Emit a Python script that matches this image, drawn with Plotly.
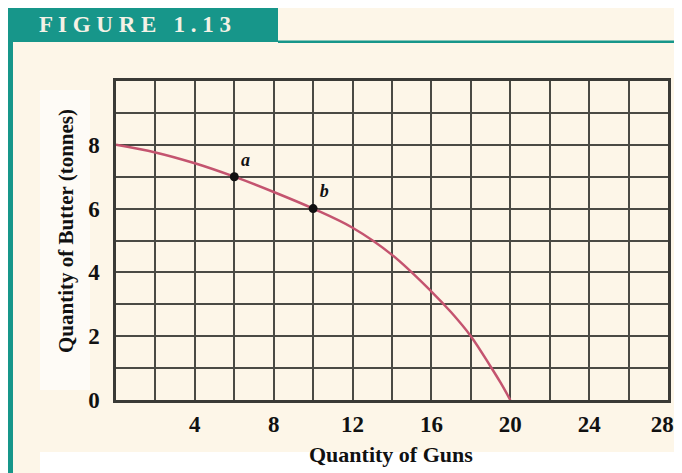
import plotly.graph_objects as go

# production possibilities frontier (guns vs butter)
guns = [0, 2, 4, 6, 8, 10, 12, 14, 16, 17, 18, 19, 19.5, 20]
butter = [8, 7.76, 7.42, 7.0, 6.52, 6.0, 5.4, 4.55, 3.4, 2.75, 2.0, 1.05, 0.55, 0]

point_labels = ["a", "b"]
point_guns = [6, 10]
point_butter = [7, 6]

x_grid = list(range(0, 29, 2))
x_text = ["<b>%d</b>" % v if v >= 4 and v % 4 == 0 else "" for v in x_grid]
x_text[-1] = "<b>28</b>\u00a0\u00a0"  # nudge last label inside the page
y_grid = list(range(0, 11))
y_text = ["<b>%d</b>" % v if v % 2 == 0 and v <= 8 else "" for v in y_grid]

teal = "#17968a"
cream = "#fdf6e8"
serif = "Liberation Serif"

OFF = 8  # page body margin
W, H = 682 - OFF, 473 - OFF
L, R, T, B = 116 - OFF, W - (668 - OFF), 81 - OFF, H - (400 - OFF)
pw, ph = W - L - R, H - T - B


def px(x):
    return (x - OFF - L) / pw


def py(y):
    return (H - B - (y - OFF)) / ph


fig = go.Figure()
fig.add_trace(go.Scatter(x=guns, y=butter, mode="lines", line=dict(color="#c4546f", width=2.5, shape="spline"),
                         hoverinfo="skip", showlegend=False))
fig.add_trace(go.Scatter(x=point_guns, y=point_butter, mode="markers+text", text=point_labels,
                         textposition="top right", texttemplate="<b><i>%{text}</i></b>",
                         textfont=dict(family=serif, size=18, color="#111"),
                         marker=dict(color="#111", size=9), showlegend=False))

fig.update_xaxes(range=[0, 28], tickvals=x_grid, ticktext=x_text, showgrid=True, gridcolor="#4a4a44", gridwidth=2,
                 showline=True, linecolor="#3a3a36", linewidth=2.5, mirror=True, zeroline=False, ticks="",
                 tickfont=dict(family=serif, size=23, color="#111"), ticklabelstandoff=2, automargin=False,
                 ticklabeloverflow="allow")
fig.update_yaxes(range=[0, 10], tickvals=y_grid, ticktext=y_text, showgrid=True, gridcolor="#4a4a44", gridwidth=2,
                 showline=True, linecolor="#3a3a36", linewidth=2.5, mirror=True, zeroline=False, ticks="",
                 tickfont=dict(family=serif, size=23, color="#111"), ticklabelstandoff=9, automargin=False)

fig.update_layout(
    width=W, height=H,
    margin=dict(l=L, r=R, t=T, b=B),
    paper_bgcolor=cream, plot_bgcolor=cream,
    annotations=[
        dict(text="<b>Quantity of Guns</b>", xref="paper", yref="paper", x=px(391), y=py(454),
             xanchor="center", yanchor="middle",
             showarrow=False, font=dict(family=serif, size=22, color="#111")),
        dict(text="<b>Quantity of Butter (tonnes)</b>", xref="paper", yref="paper", x=px(66), y=py(231),
             xanchor="center", yanchor="middle",
             textangle=-90, showarrow=False, font=dict(family=serif, size=21, color="#111")),
        dict(text="<b>F I G U R E \u00a0 1 . 1 3</b>", xref="paper", yref="paper", x=px(37), y=py(24),
             xanchor="left", yanchor="middle", showarrow=False, font=dict(family=serif, size=23, color="#f4f1e6")),
    ],
)

# page decorations: header band, teal rules, white label patches
fig.add_shape(type="rect", xref="paper", yref="paper", x0=px(40), x1=px(690), y0=py(480), y1=py(452),
              fillcolor="white", line_width=0, layer="below")
fig.add_shape(type="rect", xref="paper", yref="paper", x0=px(40), x1=px(90), y0=py(390), y1=py(90),
              fillcolor="white", line_width=0, opacity=0.6, layer="below")
fig.add_shape(type="rect", xref="paper", yref="paper", x0=px(0), x1=px(278), y0=py(42), y1=py(5),
              fillcolor=teal, line_width=0, layer="below")
fig.add_shape(type="rect", xref="paper", yref="paper", x0=px(8), x1=px(13), y0=py(490), y1=py(42),
              fillcolor=teal, line_width=0, layer="below")
fig.add_shape(type="rect", xref="paper", yref="paper", x0=px(278), x1=px(690), y0=py(43), y1=py(40.5),
              fillcolor=teal, line_width=0, layer="below")

fig.write_html("out.html")
